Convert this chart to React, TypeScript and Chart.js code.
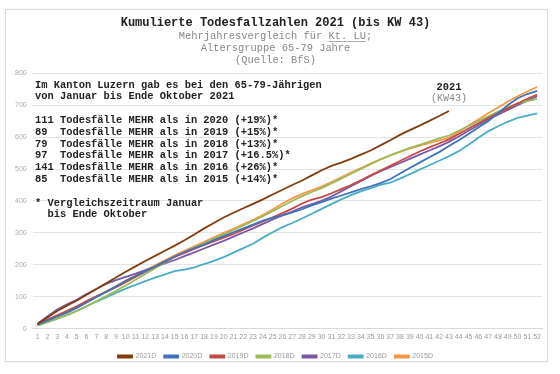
import React, { useEffect, useRef } from "react";
import { Chart, registerables } from "chart.js";

Chart.register(...registerables);

const WEEKS = [
  "1", "2", "3", "4", "5", "6", "7", "8", "9", "10", "11", "12", "13",
  "14", "15", "16", "17", "18", "19", "20", "21", "22", "23", "24", "25", "26",
  "27", "28", "29", "30", "31", "32", "33", "34", "35", "36", "37", "38", "39",
  "40", "41", "42", "43", "44", "45", "46", "47", "48", "49", "50", "51", "52",
];

const Y2021 = [15, 35, 55, 72, 88, 106, 124, 142, 160, 178, 195, 212, 228, 244, 260, 277, 295, 314, 331, 348, 363, 377, 391, 405, 420, 435, 450, 464, 480, 496, 510, 520, 532, 545, 558, 574, 590, 607, 622, 636, 651, 666, 682];
const Y2020 = [12, 25, 38, 50, 65, 82, 98, 115, 132, 150, 165, 180, 195, 210, 226, 240, 252, 263, 277, 290, 302, 314, 326, 338, 347, 355, 364, 374, 386, 396, 407, 417, 427, 437, 446, 456, 468, 486, 503, 520, 537, 553, 572, 590, 610, 630, 650, 675, 700, 722, 735, 745];
const Y2019 = [15, 28, 42, 56, 70, 86, 101, 115, 130, 145, 162, 178, 194, 210, 225, 237, 250, 262, 273, 285, 297, 310, 323, 336, 349, 362, 376, 392, 404, 412, 424, 437, 450, 465, 480, 495, 510, 525, 540, 555, 568, 580, 593, 610, 627, 643, 660, 675, 690, 705, 720, 733];
const Y2018 = [10, 20, 31, 42, 55, 70, 86, 102, 118, 135, 153, 171, 189, 207, 225, 240, 254, 268, 282, 295, 309, 323, 337, 352, 368, 384, 400, 415, 428, 440, 455, 470, 485, 500, 515, 530, 543, 555, 566, 576, 586, 596, 605, 620, 635, 650, 665, 679, 693, 706, 713, 720];
const Y2017 = [15, 38, 60, 76, 90, 108, 124, 140, 152, 162, 172, 183, 193, 204, 215, 227, 239, 251, 263, 275, 288, 301, 314, 328, 342, 355, 367, 380, 390, 400, 414, 430, 446, 462, 478, 493, 506, 519, 532, 545, 558, 571, 585, 602, 620, 637, 655, 670, 685, 700, 714, 728];
const Y2016 = [10, 20, 31, 42, 55, 70, 84, 98, 112, 125, 137, 149, 160, 170, 180, 185, 192, 202, 212, 224, 238, 252, 266, 285, 302, 318, 331, 345, 360, 375, 390, 405, 418, 430, 440, 450, 457, 470, 484, 498, 512, 526, 540, 556, 576, 598, 618, 634, 648, 660, 667, 674];
const Y2015 = [12, 25, 38, 51, 65, 82, 99, 116, 133, 150, 166, 182, 198, 214, 230, 244, 258, 272, 286, 300, 313, 327, 341, 356, 373, 392, 408, 422, 433, 445, 459, 474, 489, 503, 517, 530, 543, 554, 564, 573, 582, 590, 598, 616, 636, 655, 675, 693, 711, 728, 743, 757];

const SERIES_NAMES = ["2021D", "2020D", "2019D", "2018D", "2017D", "2016D", "2015D"];
const SERIES_COLORS = ["#843C0C", "#3F72B8", "#C24A47", "#9BBB59", "#7B58A6", "#4BACC6", "#F79646"];
const SERIES_DATA = [Y2021, Y2020, Y2019, Y2018, Y2017, Y2016, Y2015];

const TITLE = "Kumulierte Todesfallzahlen 2021 (bis KW 43)";
const SUBTITLE = ["Mehrjahresvergleich für Kt. LU;", "Altersgruppe 65-79 Jahre", "(Quelle: BfS)"];
const UNDERLINED = "Kt. LU";

const NOTE_LINES = [
  "Im Kanton Luzern gab es bei den 65-79-Jährigen",
  "von Januar bis Ende Oktober 2021",
  "",
  "111 Todesfälle MEHR als in 2020 (+19%)*",
  "89  Todesfälle MEHR als in 2019 (+15%)*",
  "79  Todesfälle MEHR als in 2018 (+13%)*",
  "97  Todesfälle MEHR als in 2017 (+16.5%)*",
  "141 Todesfälle MEHR als in 2016 (+26%)*",
  "85  Todesfälle MEHR als in 2015 (+14%)*",
  "",
  "* Vergleichszeitraum Januar",
  "  bis Ende Oktober",
];

const END_LABEL = ["2021", "(KW43)"];

const MONO = '"Liberation Mono", "DejaVu Sans Mono", monospace';
const SANS = '"Liberation Sans", Arial, sans-serif';

const PAD_L = 9;
const PAD_R = 18;

const notesPlugin = {
  id: "notesPlugin",
  afterDatasetsDraw(chart: any) {
    const ctx = chart.ctx as CanvasRenderingContext2D;
    ctx.save();
    ctx.font = `bold 10.4px ${MONO}`;
    ctx.fillStyle = "#222";
    ctx.textAlign = "left";
    ctx.textBaseline = "middle";
    NOTE_LINES.forEach((t, i) => {
      if (t) ctx.fillText(t, 35, 85 + i * 11.8);
    });
    const xs = chart.scales.x;
    const ys = chart.scales.y;
    const lx = xs.getPixelForValue(Y2021.length - 1);
    ctx.textAlign = "center";
    ctx.font = `bold 10.4px ${MONO}`;
    ctx.fillStyle = "#222";
    ctx.fillText(END_LABEL[0], lx, ys.getPixelForValue(757));
    ctx.font = `10px ${MONO}`;
    ctx.fillStyle = "#888";
    ctx.fillText(END_LABEL[1], lx, ys.getPixelForValue(720));
    ctx.font = `10.4px ${MONO}`;
    const line = SUBTITLE[0];
    const cx = (PAD_L + chart.width - PAD_R) / 2;
    const full = ctx.measureText(line).width;
    const idx = line.indexOf(UNDERLINED);
    const pre = ctx.measureText(line.slice(0, idx)).width;
    const uw = ctx.measureText(UNDERLINED).width;
    const x0 = cx - full / 2 + pre;
    ctx.strokeStyle = "#999";
    ctx.lineWidth = 0.8;
    ctx.beginPath();
    ctx.moveTo(x0, 41.5);
    ctx.lineTo(x0 + uw, 41.5);
    ctx.stroke();
    ctx.restore();
  },
};

export default function App() {
  const ref = useRef<HTMLCanvasElement | null>(null);

  useEffect(() => {
    if (!ref.current) return;
    const chart = new Chart(ref.current, {
      type: "line",
      data: {
        labels: WEEKS,
        datasets: SERIES_NAMES.map((name, i) => ({
          label: name,
          data: SERIES_DATA[i],
          borderColor: SERIES_COLORS[i],
          backgroundColor: SERIES_COLORS[i],
          borderWidth: 1.8,
          pointRadius: 0,
          pointHoverRadius: 0,
          tension: 0,
          fill: false,
        })),
      },
      options: {
        responsive: false,
        animation: false,
        layout: { padding: { left: PAD_L, right: PAD_R, top: 0, bottom: 4 } },
        plugins: {
          title: {
            display: true,
            text: TITLE,
            color: "#222",
            font: { family: MONO, size: 12, weight: "bold", lineHeight: 1.2 },
            padding: { top: 16, bottom: 0 },
          },
          subtitle: {
            display: true,
            text: SUBTITLE,
            color: "#888",
            font: { family: MONO, size: 10.4, weight: "normal", lineHeight: 1.15 },
            padding: { top: 0, bottom: 7 },
          },
          legend: {
            display: true,
            position: "bottom",
            labels: {
              boxWidth: 14,
              boxHeight: 2,
              padding: 8,
              color: "#999",
              font: { family: SANS, size: 7 },
            },
          },
          tooltip: { enabled: false },
        },
        scales: {
          x: {
            offset: true,
            grid: { display: false, drawTicks: false },
            border: { display: true, color: "#d9d9d9" },
            ticks: {
              autoSkip: false,
              maxRotation: 0,
              minRotation: 0,
              color: "#999",
              font: { family: SANS, size: 7 },
              padding: 4,
            },
          },
          y: {
            min: 0,
            max: 800,
            grid: { color: "#e3e3e3", drawTicks: false, lineWidth: 1 },
            border: { display: false },
            ticks: {
              stepSize: 100,
              color: "#aaa",
              font: { family: SANS, size: 7 },
              padding: 6,
            },
          },
        },
      },
      plugins: [notesPlugin],
    });
    return () => chart.destroy();
  }, []);

  return (
    <div style={{ position: "fixed", left: 0, top: 0, width: 560, height: 374, background: "#fff" }}>
      <div
        style={{
          position: "absolute",
          left: 5,
          top: 9,
          width: 543,
          height: 353,
          boxSizing: "border-box",
          border: "1px solid #dcdcdc",
          boxShadow: "0 0 2px rgba(0,0,0,0.08)",
        }}
      />
      <canvas ref={ref} width={560} height={374} style={{ position: "absolute", left: 0, top: 0 }} />
    </div>
  );
}
